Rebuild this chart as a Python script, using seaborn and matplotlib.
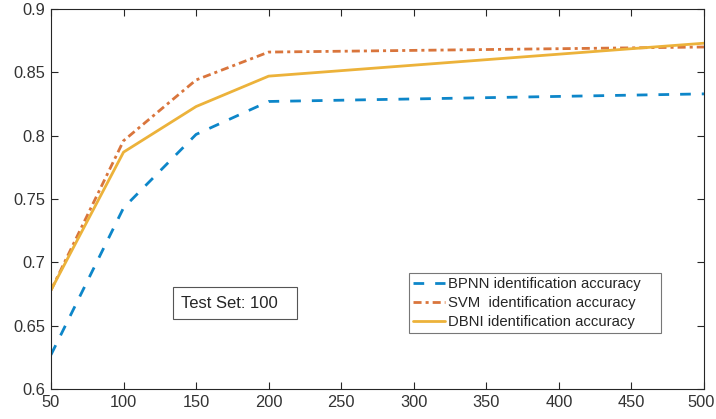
import matplotlib
matplotlib.use("Agg")
import matplotlib.pyplot as plt
from matplotlib.patches import Rectangle
from matplotlib.transforms import ScaledTranslation
import seaborn as sns
import pandas as pd

x = [50, 100, 150, 200, 500]
bpnn = [0.627, 0.743, 0.801, 0.827, 0.833]
svm = [0.678, 0.796, 0.844, 0.866, 0.870]
dbni = [0.678, 0.787, 0.823, 0.847, 0.873]
labels = ["BPNN identification accuracy", "SVM  identification accuracy", "DBNI identification accuracy"]
colors = ["#0d86c9", "#d9753c", "#ecb23a"]

sns.set_style("white")
plt.rcParams['font.family'] = ['Liberation Sans', 'DejaVu Sans']

df = pd.concat([
    pd.DataFrame({"x": x, "y": vals, "series": lab})
    for vals, lab in zip([bpnn, svm, dbni], labels)
])

fig = plt.figure(figsize=(7.16, 4.19), dpi=100)
ax = fig.add_axes([0.0712, 0.0716, 0.9120, 0.9069])

dash_styles = [(0, (3.85, 3.95)), (0, (2.9, 1.45, 1.1, 1.45)), "-"]
for lab, c, ls in zip(labels, colors, dash_styles):
    sub = df[df["series"] == lab]
    sns.lineplot(data=sub, x="x", y="y", ax=ax, color=c, linewidth=2.0,
                 linestyle=ls, label=lab, legend=False)

ax.set_xlim(50, 500)
ax.set_ylim(0.6, 0.9)
ax.set_xticks(range(50, 501, 50))
ax.set_yticks([0.6, 0.65, 0.7, 0.75, 0.8, 0.85, 0.9])
ax.set_yticklabels(["0.6", "0.65", "0.7", "0.75", "0.8", "0.85", "0.9"])
ax.set_xlabel("")
ax.set_ylabel("")
for s in ax.spines.values():
    s.set_color("#262626")
    s.set_linewidth(0.8)
ax.tick_params(direction="in", length=5, width=0.8, color="#262626",
               labelsize=11.8, labelcolor="#333333", top=True, right=True,
               bottom=True, left=True, pad=4)

# nudge the last x tick label so it stays inside the canvas
last = ax.get_xticklabels()[-1]
last.set_transform(last.get_transform() + ScaledTranslation(-3 / 100, 0, fig.dpi_scale_trans))

leg = ax.legend(loc="upper left", bbox_to_anchor=(0.5717, 0.1, 0.3520, 0.2477),
                bbox_transform=fig.transFigure, fontsize=10.7, mode="expand",
                frameon=True, fancybox=False, handlelength=2.1, handletextpad=0.23,
                borderpad=0.27, labelspacing=0.32, borderaxespad=0)
leg.get_frame().set_edgecolor("#555555")
leg.get_frame().set_linewidth(0.8)

fig.patches.append(Rectangle((0.2412, 0.2387), 0.1732, 0.0771, transform=fig.transFigure,
                             fill=False, ec="#555555", lw=0.8, zorder=5))
fig.text(0.2524, 0.2768, "Test Set: 100", fontsize=12, color="#262626",
         ha="left", va="center")

fig.savefig("out.png", dpi=100)
